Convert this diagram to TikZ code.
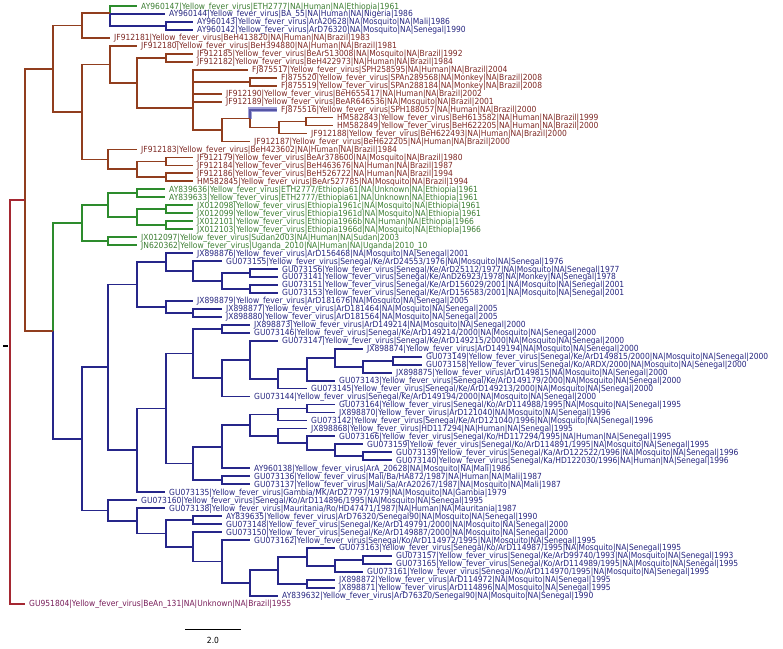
\documentclass[tikz,border=0pt]{standalone}
\usepackage{fontspec}
\setmainfont{DejaVu Sans}[FakeStretch=0.9]
\definecolor{brn}{RGB}{145,62,30}
\definecolor{brnT}{RGB}{125,40,35}
\definecolor{grn}{RGB}{45,140,45}
\definecolor{grnT}{RGB}{60,125,50}
\definecolor{blu}{RGB}{38,38,138}
\definecolor{bluT}{RGB}{38,38,128}
\definecolor{rootc}{RGB}{165,40,50}
\definecolor{rootT}{RGB}{120,30,90}
\definecolor{hlglow}{RGB}{160,160,215}
\definecolor{hlcore}{RGB}{85,85,165}
\newcommand\lf[4]{%
  \coordinate (t#1) at (#2,#1);
  \node[lab,#3] (L#1) at ([xshift=4pt,yshift=-3pt]t#1) {#4};}
\newcommand\edg[3]{\draw[#1] (#2) |- (#3);}
\begin{document}
\begin{tikzpicture}[x=1pt,y=-7.97pt,
  lab/.style={font=\fontsize{8.4}{9}\selectfont, inner sep=0pt, anchor=base west},
  e/.style={line width=1.8pt},
  eb/.style={e,draw=brn}, eg/.style={e,draw=grn}, eu/.style={e,draw=blu},
  er/.style={e,draw=rootc}]
\useasboundingbox (0,0.2472) rectangle (783,81.553);

% ---------- internal nodes ----------
\coordinate (N3) at (166,3.5);
\coordinate (N2) at (110,2.75);
\coordinate (N1) at (110,1.875);
\coordinate (A) at (82,3.4375);
\coordinate (H) at (166,7.5);
\coordinate (K) at (250,10.5);
\coordinate (J) at (193,9.75);
\coordinate (M) at (193,12.5);
\coordinate (JM) at (193,11.125);
\coordinate (HM) at (306,15.5);
\coordinate (P) at (279,16.25);
\coordinate (Q) at (250,15.125);
\coordinate (R) at (222,16.5625);
\coordinate (N193) at (193,13.84);
\coordinate (G) at (137,10.67);
\coordinate (F) at (110,8.336);
\coordinate (S1) at (166,20.5);
\coordinate (S2) at (166,22.5);
\coordinate (S) at (137,21.5);
\coordinate (D) at (108,20.25);
\coordinate (C) at (82,14.29);
\coordinate (B) at (53,8.866);
\coordinate (G1) at (137,24.5);
\coordinate (G2) at (166,26.5);
\coordinate (G3) at (166,28.5);
\coordinate (G4) at (137,27.5);
\coordinate (G5) at (108,26);
\coordinate (G6) at (108,30.5);
\coordinate (G7) at (82,28.25);
\coordinate (b1) at (250,34.5);
\coordinate (b2) at (250,36.5);
\coordinate (b3) at (222,35.5);
\coordinate (b4) at (193,34.25);
\coordinate (b5) at (166,33.125);
\coordinate (b6) at (193,39.5);
\coordinate (b7) at (166,38.75);
\coordinate (b8) at (137,35.9375);
\coordinate (b9) at (222,41.5);
\coordinate (c1) at (393,45.5);
\coordinate (c2) at (363,46.25);
\coordinate (c3) at (335,45.125);
\coordinate (c4) at (307,46.5625);
\coordinate (c5) at (278,47.78);
\coordinate (c6) at (250,45.39);
\coordinate (c7) at (222,47.695);
\coordinate (c8) at (193,44.6);
\coordinate (d1) at (307,51.5);
\coordinate (d2) at (278,52.25);
\coordinate (d3) at (363,57.5);
\coordinate (d4) at (335,56.75);
\coordinate (d5) at (307,55.875);
\coordinate (d6) at (278,54.94);
\coordinate (d7) at (250,53.59);
\coordinate (d8) at (222,56.3);
\coordinate (d9) at (222,60.5);
\coordinate (d10) at (193,58.4);
\coordinate (d11) at (166,51.5);
\coordinate (d12) at (137,56.75);
\coordinate (P1) at (108,46.34);
\coordinate (e1) at (193,65.5);
\coordinate (e2) at (363,70.5);
\coordinate (e3) at (335,71.25);
\coordinate (e4) at (307,70.125);
\coordinate (e5) at (307,73.5);
\coordinate (e6) at (278,71.81);
\coordinate (e7) at (250,73.41);
\coordinate (e8) at (222,70.7);
\coordinate (e9) at (193,68.85);
\coordinate (e10) at (166,67.18);
\coordinate (e11) at (137,65.59);
\coordinate (e12) at (108,64.3);
\coordinate (B2) at (82,55.32);
\coordinate (GB) at (53,41.78);
\coordinate (T) at (25,25.32);
\coordinate (Rt) at (10,50.66);

% ---------- leaves ----------
\lf{1}{137}{grnT}{AY960147|Yellow\_fever\_virus|ETH2777|NA|Human|NA|Ethiopia|1961}
\lf{2}{165}{bluT}{AY960144|Yellow\_fever\_virus|BA\_55|NA|Human|NA|Nigeria|1986}
\lf{3}{193}{bluT}{AY960143|Yellow\_fever\_virus|ArA20628|NA|Mosquito|NA|Mali|1986}
\lf{4}{193}{bluT}{AY960142|Yellow\_fever\_virus|ArD76320|NA|Mosquito|NA|Senegal|1990}
\lf{5}{110}{brnT}{JF912181|Yellow\_fever\_virus|BeH413820|NA|Human|NA|Brazil|1983}
\lf{6}{137}{brnT}{JF912180|Yellow\_fever\_virus|BeH394880|NA|Human|NA|Brazil|1981}
\lf{7}{193}{brnT}{JF912185|Yellow\_fever\_virus|BeAr513008|NA|Mosquito|NA|Brazil|1992}
\lf{8}{193}{brnT}{JF912182|Yellow\_fever\_virus|BeH422973|NA|Human|NA|Brazil|1984}
\lf{9}{248}{brnT}{FJ875517|Yellow\_fever\_virus|SPH258595|NA|Human|NA|Brazil|2004}
\lf{10}{277}{brnT}{FJ875520|Yellow\_fever\_virus|SPAn289568|NA|Monkey|NA|Brazil|2008}
\lf{11}{277}{brnT}{FJ875519|Yellow\_fever\_virus|SPAn288184|NA|Monkey|NA|Brazil|2008}
\lf{12}{222}{brnT}{JF912190|Yellow\_fever\_virus|BeH655417|NA|Human|NA|Brazil|2002}
\lf{13}{222}{brnT}{JF912189|Yellow\_fever\_virus|BeAR646536|NA|Mosquito|NA|Brazil|2001}
\lf{14}{277}{brnT}{FJ875516|Yellow\_fever\_virus|SPH188057|NA|Human|NA|Brazil|2000}
\lf{15}{333}{brnT}{HM582843|Yellow\_fever\_virus|BeH613582|NA|Human|NA|Brazil|1999}
\lf{16}{333}{brnT}{HM582849|Yellow\_fever\_virus|BeH622205|NA|Human|NA|Brazil|2000}
\lf{17}{307}{brnT}{JF912188|Yellow\_fever\_virus|BeH622493|NA|Human|NA|Brazil|2000}
\lf{18}{250}{brnT}{JF912187|Yellow\_fever\_virus|BeH622205|NA|Human|NA|Brazil|2000}
\lf{19}{137}{brnT}{JF912183|Yellow\_fever\_virus|BeH423602|NA|Human|NA|Brazil|1984}
\lf{20}{193}{brnT}{JF912179|Yellow\_fever\_virus|BeAr378600|NA|Mosquito|NA|Brazil|1980}
\lf{21}{193}{brnT}{JF912184|Yellow\_fever\_virus|BeH463676|NA|Human|NA|Brazil|1987}
\lf{22}{193}{brnT}{JF912186|Yellow\_fever\_virus|BeH526722|NA|Human|NA|Brazil|1994}
\lf{23}{193}{brnT}{HM582845|Yellow\_fever\_virus|BeAr527785|NA|Mosquito|NA|Brazil|1994}
\lf{24}{165}{grnT}{AY839636|Yellow\_fever\_virus|ETH2777/Ethiopia61|NA|Unknown|NA|Ethiopia|1961}
\lf{25}{165}{grnT}{AY839633|Yellow\_fever\_virus|ETH2777/Ethiopia61|NA|Unknown|NA|Ethiopia|1961}
\lf{26}{193}{grnT}{JX012098|Yellow\_fever\_virus|Ethiopia1961c|NA|Mosquito|NA|Ethiopia|1961}
\lf{27}{193}{grnT}{JX012099|Yellow\_fever\_virus|Ethiopia1961d|NA|Mosquito|NA|Ethiopia|1961}
\lf{28}{193}{grnT}{JX012101|Yellow\_fever\_virus|Ethiopia1966b|NA|Human|NA|Ethiopia|1966}
\lf{29}{193}{grnT}{JX012103|Yellow\_fever\_virus|Ethiopia1966d|NA|Mosquito|NA|Ethiopia|1966}
\lf{30}{137}{grnT}{JX012097|Yellow\_fever\_virus|Sudan2003|NA|Human|NA|Sudan|2003}
\lf{31}{137}{grnT}{JN620362|Yellow\_fever\_virus|Uganda\_2010|NA|Human|NA|Uganda|2010\_10}
\lf{32}{193}{bluT}{JX898876|Yellow\_fever\_virus|ArD156468|NA|Mosquito|NA|Senegal|2001}
\lf{33}{222}{bluT}{GU073155|Yellow\_fever\_virus|Senegal/Ke/ArD24553/1976|NA|Mosquito|NA|Senegal|1976}
\lf{34}{278}{bluT}{GU073156|Yellow\_fever\_virus|Senegal/Ke/ArD25112/1977|NA|Mosquito|NA|Senegal|1977}
\lf{35}{278}{bluT}{GU073141|Yellow\_fever\_virus|Senegal/Ke/AnD26923/1978|NA|Monkey|NA|Senegal|1978}
\lf{36}{278}{bluT}{GU073151|Yellow\_fever\_virus|Senegal/Ke/ArD156029/2001|NA|Mosquito|NA|Senegal|2001}
\lf{37}{278}{bluT}{GU073153|Yellow\_fever\_virus|Senegal/Ke/ArD156583/2001|NA|Mosquito|NA|Senegal|2001}
\lf{38}{193}{bluT}{JX898879|Yellow\_fever\_virus|ArD181676|NA|Mosquito|NA|Senegal|2005}
\lf{39}{222}{bluT}{JX898877|Yellow\_fever\_virus|ArD181464|NA|Mosquito|NA|Senegal|2005}
\lf{40}{222}{bluT}{JX898880|Yellow\_fever\_virus|ArD181564|NA|Mosquito|NA|Senegal|2005}
\lf{41}{250}{bluT}{JX898873|Yellow\_fever\_virus|ArD149214|NA|Mosquito|NA|Senegal|2000}
\lf{42}{250}{bluT}{GU073146|Yellow\_fever\_virus|Senegal/Ke/ArD149214/2000|NA|Mosquito|NA|Senegal|2000}
\lf{43}{278}{bluT}{GU073147|Yellow\_fever\_virus|Senegal/Ke/ArD149215/2000|NA|Mosquito|NA|Senegal|2000}
\lf{44}{363}{bluT}{JX898874|Yellow\_fever\_virus|ArD149194|NA|Mosquito|NA|Senegal|2000}
\lf{45}{422}{bluT}{GU073149|Yellow\_fever\_virus|Senegal/Ke/ArD149815/2000|NA|Mosquito|NA|Senegal|2000}
\lf{46}{422}{bluT}{GU073158|Yellow\_fever\_virus|Senegal/Ko/ARDX/2000|NA|Mosquito|NA|Senegal|2000}
\lf{47}{392}{bluT}{JX898875|Yellow\_fever\_virus|ArD149815|NA|Mosquito|NA|Senegal|2000}
\lf{48}{335}{bluT}{GU073143|Yellow\_fever\_virus|Senegal/Ke/ArD149179/2000|NA|Mosquito|NA|Senegal|2000}
\lf{49}{307}{bluT}{GU073145|Yellow\_fever\_virus|Senegal/Ke/ArD149213/2000|NA|Mosquito|NA|Senegal|2000}
\lf{50}{250}{bluT}{GU073144|Yellow\_fever\_virus|Senegal/Ke/ArD149194/2000|NA|Mosquito|NA|Senegal|2000}
\lf{51}{335}{bluT}{GU073164|Yellow\_fever\_virus|Senegal/Ko/ArD114988/1995|NA|Mosquito|NA|Senegal|1995}
\lf{52}{335}{bluT}{JX898870|Yellow\_fever\_virus|ArD121040|NA|Mosquito|NA|Senegal|1996}
\lf{53}{307}{bluT}{GU073142|Yellow\_fever\_virus|Senegal/Ke/ArD121040/1996|NA|Mosquito|NA|Senegal|1996}
\lf{54}{307}{bluT}{JX898868|Yellow\_fever\_virus|HD117294|NA|Human|NA|Senegal|1995}
\lf{55}{335}{bluT}{GU073166|Yellow\_fever\_virus|Senegal/Ko/HD117294/1995|NA|Human|NA|Senegal|1995}
\lf{56}{363}{bluT}{GU073159|Yellow\_fever\_virus|Senegal/Ko/ArD114891/1995|NA|Mosquito|NA|Senegal|1995}
\lf{57}{392}{bluT}{GU073139|Yellow\_fever\_virus|Senegal/Ka/ArD122522/1996|NA|Mosquito|NA|Senegal|1996}
\lf{58}{392}{bluT}{GU073140|Yellow\_fever\_virus|Senegal/Ka/HD122030/1996|NA|Human|NA|Senegal|1996}
\lf{59}{250}{bluT}{AY960138|Yellow\_fever\_virus|ArA\_20628|NA|Mosquito|NA|Mali|1986}
\lf{60}{250}{bluT}{GU073136|Yellow\_fever\_virus|Mali/Ba/HA872/1987|NA|Human|NA|Mali|1987}
\lf{61}{250}{bluT}{GU073137|Yellow\_fever\_virus|Mali/Sa/ArA20267/1987|NA|Mosquito|NA|Mali|1987}
\lf{62}{165}{bluT}{GU073135|Yellow\_fever\_virus|Gambia/MK/ArD27797/1979|NA|Mosquito|NA|Gambia|1979}
\lf{63}{137}{bluT}{GU073160|Yellow\_fever\_virus|Senegal/Ko/ArD114896/1995|NA|Mosquito|NA|Senegal|1995}
\lf{64}{165}{bluT}{GU073138|Yellow\_fever\_virus|Mauritania/Ro/HD47471/1987|NA|Human|NA|Mauritania|1987}
\lf{65}{222}{bluT}{AY839635|Yellow\_fever\_virus|ArD76320/Senegal90|NA|Mosquito|NA|Senegal|1990}
\lf{66}{222}{bluT}{GU073148|Yellow\_fever\_virus|Senegal/Ke/ArD149791/2000|NA|Mosquito|NA|Senegal|2000}
\lf{67}{222}{bluT}{GU073150|Yellow\_fever\_virus|Senegal/Ke/ArD149887/2000|NA|Mosquito|NA|Senegal|2000}
\lf{68}{250}{bluT}{GU073162|Yellow\_fever\_virus|Senegal/Ko/ArD114972/1995|NA|Mosquito|NA|Senegal|1995}
\lf{69}{335}{bluT}{GU073163|Yellow\_fever\_virus|Senegal/Ko/ArD114987/1995|NA|Mosquito|NA|Senegal|1995}
\lf{70}{392}{bluT}{GU073157|Yellow\_fever\_virus|Senegal/Ke/ArD99740/1993|NA|Mosquito|NA|Senegal|1993}
\lf{71}{392}{bluT}{GU073165|Yellow\_fever\_virus|Senegal/Ko/ArD114989/1995|NA|Mosquito|NA|Senegal|1995}
\lf{72}{363}{bluT}{GU073161|Yellow\_fever\_virus|Senegal/Ko/ArD114970/1995|NA|Mosquito|NA|Senegal|1995}
\lf{73}{335}{bluT}{JX898872|Yellow\_fever\_virus|ArD114972|NA|Mosquito|NA|Senegal|1995}
\lf{74}{335}{bluT}{JX898871|Yellow\_fever\_virus|ArD114896|NA|Mosquito|NA|Senegal|1995}
\lf{75}{278}{bluT}{AY839632|Yellow\_fever\_virus|ArD76320/Senegal90|NA|Mosquito|NA|Senegal|1990}
\lf{76}{25}{rootT}{GU951804|Yellow\_fever\_virus|BeAn\_131|NA|Unknown|NA|Brazil|1955}

% ---------- highlight ----------
\draw[line width=4.5pt, hlglow] (Q) |- (t14);

% ---------- edges ----------
\edg{eu}{N3}{t3} \edg{eu}{N3}{t4}
\edg{eu}{N2}{t2} \edg{eu}{N2}{N3}
\edg{eg}{N1}{t1} \edg{eu}{N1}{N2}
\edg{eb}{A}{N1} \edg{eb}{A}{t5}
\edg{eb}{H}{t7} \edg{eb}{H}{t8}
\edg{eb}{K}{t10} \edg{eb}{K}{t11}
\edg{eb}{J}{t9} \edg{eb}{J}{K}
\edg{eb}{M}{t12} \edg{eb}{M}{t13}
\edg{eb}{JM}{J} \edg{eb}{JM}{M}
\edg{eb}{HM}{t15} \edg{eb}{HM}{t16}
\edg{eb}{P}{HM} \edg{eb}{P}{t17}
\draw[e, hlcore] (Q) |- (t14); \edg{eb}{Q}{P}
\edg{eb}{R}{Q} \edg{eb}{R}{t18}
\edg{eb}{N193}{JM} \edg{eb}{N193}{R}
\edg{eb}{G}{H} \edg{eb}{G}{N193}
\edg{eb}{F}{t6} \edg{eb}{F}{G}
\edg{eb}{S1}{t20} \edg{eb}{S1}{t21}
\edg{eb}{S2}{t22} \edg{eb}{S2}{t23}
\edg{eb}{S}{S1} \edg{eb}{S}{S2}
\edg{eb}{D}{t19} \edg{eb}{D}{S}
\edg{eb}{C}{F} \edg{eb}{C}{D}
\edg{eb}{B}{A} \edg{eb}{B}{C}
% green
\edg{eg}{G1}{t24} \edg{eg}{G1}{t25}
\edg{eg}{G2}{t26} \edg{eg}{G2}{t27}
\edg{eg}{G3}{t28} \edg{eg}{G3}{t29}
\edg{eg}{G4}{G2} \edg{eg}{G4}{G3}
\edg{eg}{G5}{G1} \edg{eg}{G5}{G4}
\edg{eg}{G6}{t30} \edg{eg}{G6}{t31}
\edg{eg}{G7}{G5} \edg{eg}{G7}{G6}
% blue
\edg{eu}{b1}{t34} \edg{eu}{b1}{t35}
\edg{eu}{b2}{t36} \edg{eu}{b2}{t37}
\edg{eu}{b3}{b1} \edg{eu}{b3}{b2}
\edg{eu}{b4}{t33} \edg{eu}{b4}{b3}
\edg{eu}{b5}{t32} \edg{eu}{b5}{b4}
\edg{eu}{b6}{t39} \edg{eu}{b6}{t40}
\edg{eu}{b7}{t38} \edg{eu}{b7}{b6}
\edg{eu}{b8}{b5} \edg{eu}{b8}{b7}
\edg{eu}{b9}{t41} \edg{eu}{b9}{t42}
\edg{eu}{c1}{t45} \edg{eu}{c1}{t46}
\edg{eu}{c2}{c1} \edg{eu}{c2}{t47}
\edg{eu}{c3}{t44} \edg{eu}{c3}{c2}
\edg{eu}{c4}{c3} \edg{eu}{c4}{t48}
\edg{eu}{c5}{c4} \edg{eu}{c5}{t49}
\edg{eu}{c6}{t43} \edg{eu}{c6}{c5}
\edg{eu}{c7}{c6} \edg{eu}{c7}{t50}
\edg{eu}{c8}{b9} \edg{eu}{c8}{c7}
\edg{eu}{d1}{t51} \edg{eu}{d1}{t52}
\edg{eu}{d2}{d1} \edg{eu}{d2}{t53}
\edg{eu}{d3}{t57} \edg{eu}{d3}{t58}
\edg{eu}{d4}{t56} \edg{eu}{d4}{d3}
\edg{eu}{d5}{t55} \edg{eu}{d5}{d4}
\edg{eu}{d6}{t54} \edg{eu}{d6}{d5}
\edg{eu}{d7}{d2} \edg{eu}{d7}{d6}
\edg{eu}{d8}{d7} \edg{eu}{d8}{t59}
\edg{eu}{d9}{t60} \edg{eu}{d9}{t61}
\edg{eu}{d10}{d8} \edg{eu}{d10}{d9}
\edg{eu}{d11}{c8} \edg{eu}{d11}{d10}
\edg{eu}{d12}{d11} \edg{eu}{d12}{t62}
\edg{eu}{P1}{b8} \edg{eu}{P1}{d12}
\edg{eu}{e1}{t65} \edg{eu}{e1}{t66}
\edg{eu}{e2}{t70} \edg{eu}{e2}{t71}
\edg{eu}{e3}{e2} \edg{eu}{e3}{t72}
\edg{eu}{e4}{t69} \edg{eu}{e4}{e3}
\edg{eu}{e5}{t73} \edg{eu}{e5}{t74}
\edg{eu}{e6}{e4} \edg{eu}{e6}{e5}
\edg{eu}{e7}{e6} \edg{eu}{e7}{t75}
\edg{eu}{e8}{t68} \edg{eu}{e8}{e7}
\edg{eu}{e9}{t67} \edg{eu}{e9}{e8}
\edg{eu}{e10}{e1} \edg{eu}{e10}{e9}
\edg{eu}{e11}{t64} \edg{eu}{e11}{e10}
\edg{eu}{e12}{t63} \edg{eu}{e12}{e11}
\edg{eu}{B2}{P1} \edg{eu}{B2}{e12}
% deep
\edg{eg}{GB}{G7} \edg{eu}{GB}{B2}
\edg{eb}{T}{B} \edg{eb}{T}{GB}
\edg{er}{Rt}{T} \edg{er}{Rt}{t76}

% root tick
\coordinate (rk1) at (3,43.66);
\coordinate (rk2) at (8,43.66);
\draw[line width=1.5pt] (rk1) -- (rk2);

% scale bar
\coordinate (sb1) at (185,79.29);
\coordinate (sb2) at (241,79.29);
\draw[line width=1pt] (sb1) -- (sb2);
\node[font=\fontsize{8.4}{9}\selectfont, inner sep=0pt] (sbl) at (213,80.55) {2.0};
\end{tikzpicture}
\end{document}
